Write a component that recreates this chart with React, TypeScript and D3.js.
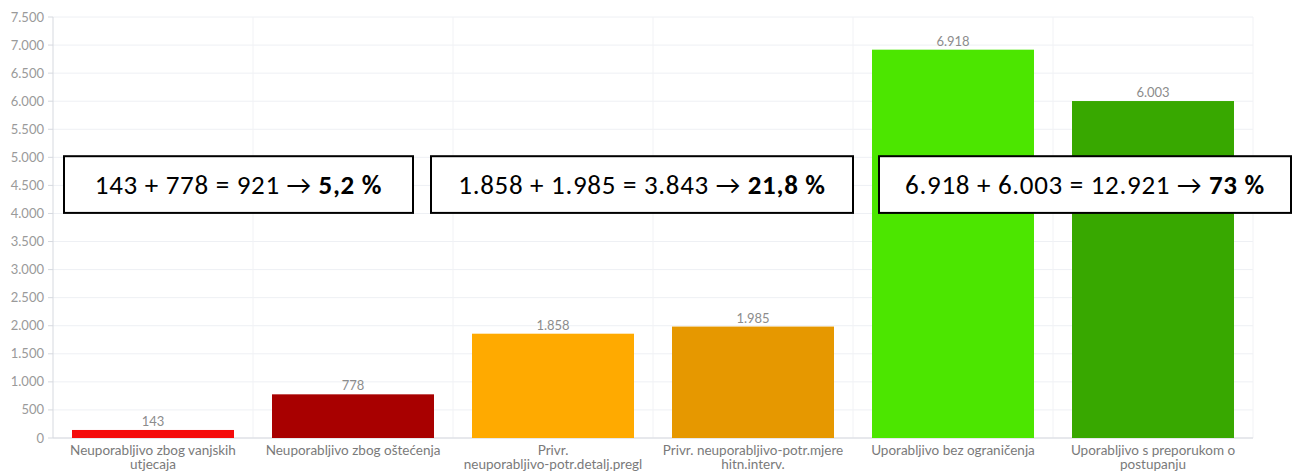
import * as d3 from "d3";

const WIDTH = 1295;
const HEIGHT = 472;
const MARGIN = { top: 17, right: 42, bottom: 34, left: 53 };

const categories = [
  "Neuporabljivo zbog vanjskih\nutjecaja",
  "Neuporabljivo zbog oštećenja",
  "Privr.\nneuporabljivo-potr.detalj.pregl",
  "Privr. neuporabljivo-potr.mjere\nhitn.interv.",
  "Uporabljivo bez ograničenja",
  "Uporabljivo s preporukom o\npostupanju",
];
const values = [143, 778, 1858, 1985, 6918, 6003];
const colors = ["#f50b0b", "#a80000", "#ffaa00", "#e69800", "#4ce600", "#38a800"];
const yTicks = [0, 500, 1000, 1500, 2000, 2500, 3000, 3500, 4000, 4500, 5000, 5500, 6000, 6500, 7000, 7500];

// summary boxes: which bars they cover, plain part, bold part
const boxFrom = [0, 2, 4];
const boxPlain = ["143 + 778 = 921 → ", "1.858 + 1.985 = 3.843 → ", "6.918 + 6.003 = 12.921 → "];
const boxBold = ["5,2 %", "21,8 %", "73 %"];

const locale = d3.formatLocale({ decimal: ",", thousands: ".", grouping: [3], currency: ["", " €"] });
const fmt = locale.format(",d");

const FONT = "Lato, 'Open Sans', sans-serif";

export default function App() {
  const boundsWidth = WIDTH - MARGIN.left - MARGIN.right;
  const boundsHeight = HEIGHT - MARGIN.top - MARGIN.bottom;

  const xScale = d3
    .scaleBand()
    .domain(categories)
    .range([0, boundsWidth])
    .paddingInner(0.19)
    .paddingOuter(0.095);
  const step = xScale.step();
  // start of the whole slot of a category (band + half the gaps)
  const slot = (i: number) => (xScale(categories[i]) ?? 0) - step * 0.095;

  const yScale = d3.scaleLinear().domain([0, 7500]).range([boundsHeight, 0]);

  const grid = yTicks.map((t) => (
    <line key={"h" + t} x1={0} x2={boundsWidth} y1={yScale(t)} y2={yScale(t)} stroke="#eef0f4" />
  ));
  const vgrid = categories.map((c, i) => (
    <line key={"v" + i} x1={slot(i) + step} x2={slot(i) + step} y1={0} y2={boundsHeight} stroke="#f1f2f5" />
  ));

  const yAxis = yTicks.map((t) => (
    <g key={"y" + t} transform={`translate(0,${yScale(t)})`}>
      <line x1={-5} x2={0} stroke="#d6d9df" />
      <text x={-9} dy="0.35em" textAnchor="end" fontSize={13} fill="#9a9a9a" fontFamily={FONT}>
        {fmt(t)}
      </text>
    </g>
  ));

  const bars = categories.map((c, i) => {
    const x = xScale(c) ?? 0;
    const y = yScale(values[i]);
    return (
      <g key={"b" + i}>
        <rect x={x} y={y} width={xScale.bandwidth()} height={boundsHeight - y} fill={colors[i]} />
        <text
          x={x + xScale.bandwidth() / 2}
          y={y - 4}
          textAnchor="middle"
          fontSize={13}
          fill="#8c8c8c"
          fontFamily={FONT}
        >
          {fmt(values[i])}
        </text>
        <text
          x={x + xScale.bandwidth() / 2}
          y={boundsHeight + 17}
          textAnchor="middle"
          fontSize={13.5}
          fill="#7a7a7a"
          fontFamily={FONT}
        >
          {c.split("\n").map((line, j) => (
            <tspan key={j} x={x + xScale.bandwidth() / 2} dy={j === 0 ? 0 : 14}>
              {line}
            </tspan>
          ))}
        </text>
      </g>
    );
  });

  // box edges relative to the covered slots
  const boxLeft = [11, -22, 26];
  const boxRight = [-40, 0, 38];
  const boxTop = yScale(5020);
  const boxBottom = yScale(4010);
  const boxes = boxFrom.map((b, i) => {
    const x0 = slot(b) + boxLeft[i];
    const x1 = slot(b + 1) + step + boxRight[i];
    return (
      <g key={"box" + i}>
        <rect x={x0} y={boxTop} width={x1 - x0} height={boxBottom - boxTop} fill="#fff" stroke="#000" strokeWidth={2} />
        <text
          x={(x0 + x1) / 2}
          y={(boxTop + boxBottom) / 2}
          dy="0.35em"
          textAnchor="middle"
          fontSize={27}
          letterSpacing={0.7}
          fill="#000"
          fontFamily="Carlito, Lato, 'Open Sans', sans-serif"
        >
          {boxPlain[i]}
          <tspan fontWeight="bold">{boxBold[i]}</tspan>
        </text>
      </g>
    );
  });

  return (
    <svg width={WIDTH} height={HEIGHT} style={{ position: "absolute", left: 0, top: 0, background: "#fff" }}>
      <g transform={`translate(${MARGIN.left},${MARGIN.top})`}>
        {grid}
        {vgrid}
        <line x1={0} x2={0} y1={0} y2={boundsHeight} stroke="#d6d9df" />
        <line x1={0} x2={boundsWidth} y1={boundsHeight} y2={boundsHeight} stroke="#d6d9df" />
        {yAxis}
        {bars}
        {boxes}
      </g>
    </svg>
  );
}
